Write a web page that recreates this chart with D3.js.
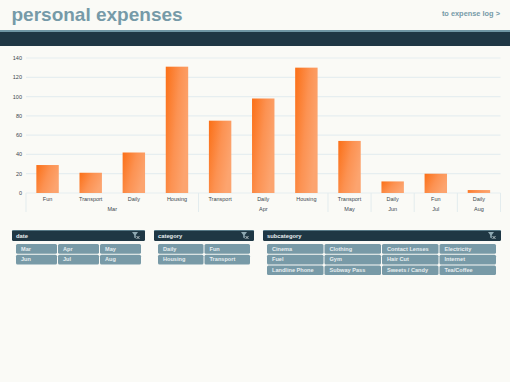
<!DOCTYPE html>
<html>

<head>
    <script src="https://d3js.org/d3.v7.min.js"></script>
    <style>
        body {
            margin: 0;
            background: #fafaf6;
            font-family: "Liberation Sans", Arial, sans-serif;
            overflow: hidden;
        }

        .grid line {
            stroke: #e6eef0;
            stroke-width: 1.2px;
        }

        .tick-label {
            font-size: 5.5px;
            fill: #3b474d;
        }

        .btn-label {
            font-size: 5.6px;
            font-weight: bold;
            fill: #e6edef;
        }

        .panel-title {
            font-size: 5.8px;
            font-weight: bold;
            fill: #e8eef0;
        }
    </style>
</head>

<body>
    <svg id="chart" width="510" height="382"></svg>
    <script>
        // chart data
        var months = ["Mar", "Mar", "Mar", "Mar", "Apr", "Apr", "Apr", "May", "Jun", "Jul", "Aug"];
        var categories = ["Fun", "Transport", "Daily", "Housing", "Transport", "Daily", "Housing", "Transport", "Daily", "Fun", "Daily"];
        var amounts = [29, 21, 42, 131, 75, 98, 130, 54, 12, 20, 3];
        var yTicks = [0, 20, 40, 60, 80, 100, 120, 140];

        var dateLabels = ["Mar", "Apr", "May", "Jun", "Jul", "Aug"];
        var categoryLabels = ["Daily", "Fun", "Housing", "Transport"];
        var subcategoryLabels = ["Cinema", "Clothing", "Contact Lenses", "Electricity", "Fuel", "Gym", "Hair Cut", "Internet", "Landline Phone", "Subway Pass", "Sweets / Candy", "Tea/Coffee"];

        var svg = d3.select("#chart");

        // gradient for the bars
        var grad = svg.append("defs").append("linearGradient")
            .attr("id", "barFill")
            .attr("x1", "0%").attr("y1", "0%")
            .attr("x2", "100%").attr("y2", "45%");
        grad.append("stop").attr("offset", "0%").attr("stop-color", "#fb6f16");
        grad.append("stop").attr("offset", "55%").attr("stop-color", "#fc9252");
        grad.append("stop").attr("offset", "100%").attr("stop-color", "#fca46f");

        // header
        svg.append("text")
            .attr("x", 11.5).attr("y", 20.5)
            .style("font-size", "19px")
            .style("font-weight", "bold")
            .style("fill", "#769aa8")
            .text("personal expenses");
        svg.append("text")
            .attr("x", 500).attr("y", 16)
            .attr("text-anchor", "end")
            .style("font-size", "7.4px")
            .style("font-weight", "bold")
            .style("fill", "#769aa8")
            .text("to expense log >");
        svg.append("rect").attr("x", 0).attr("y", 30).attr("width", 510).attr("height", 2).attr("fill", "#6f96a4");
        svg.append("rect").attr("x", 0).attr("y", 32).attr("width", 510).attr("height", 14).attr("fill", "#1f3744");

        // scales
        var x = d3.scaleBand()
            .domain(d3.range(amounts.length))
            .range([26, 500.5])
            .paddingInner(0.48)
            .paddingOuter(0.24);
        var y = d3.scaleLinear()
            .domain([0, 140])
            .range([193, 58]);

        // grid lines
        svg.append("g").attr("class", "grid")
            .selectAll("line")
            .data(yTicks)
            .enter().append("line")
            .attr("x1", 26).attr("x2", 500.5)
            .attr("y1", function(d) { return y(d); })
            .attr("y2", function(d) { return y(d); });

        // y labels
        svg.selectAll(".y-label")
            .data(yTicks)
            .enter().append("text")
            .attr("class", "tick-label")
            .attr("x", 22)
            .attr("y", function(d) { return y(d) + 2; })
            .attr("text-anchor", "end")
            .text(function(d) { return d; });

        // bars
        svg.selectAll(".bar")
            .data(amounts)
            .enter().append("rect")
            .attr("class", "bar")
            .attr("x", function(d, i) { return x(i); })
            .attr("width", x.bandwidth())
            .attr("y", function(d) { return y(d); })
            .attr("height", function(d) { return y(0) - y(d); })
            .attr("fill", "url(#barFill)");

        // category labels under bars
        svg.selectAll(".cat-label")
            .data(categories)
            .enter().append("text")
            .attr("class", "tick-label")
            .attr("x", function(d, i) { return x(i) + x.bandwidth() / 2; })
            .attr("y", 201.3)
            .attr("text-anchor", "middle")
            .text(function(d) { return d; });

        // month groups, with a divider on each side
        var step = x.step();
        var monthNames = Array.from(new Set(months));
        monthNames.forEach(function(m) {
            var first = months.indexOf(m);
            var last = months.lastIndexOf(m);
            var x0 = 26 + first * step;
            var x1 = 26 + (last + 1) * step;
            svg.append("text")
                .attr("class", "tick-label")
                .attr("x", (x0 + x1) / 2)
                .attr("y", 210.5)
                .attr("text-anchor", "middle")
                .text(m);
            svg.append("line")
                .attr("x1", x1).attr("x2", x1)
                .attr("y1", 193).attr("y2", 212)
                .attr("stroke", "#e3ecee");
        });
        svg.append("line")
            .attr("x1", 26).attr("x2", 26)
            .attr("y1", 193).attr("y2", 212)
            .attr("stroke", "#e3ecee");

        // filter panels
        function panel(title, labels, left, width, btnLeft, btnWidth, cols) {
            var g = svg.append("g");
            g.append("rect")
                .attr("x", left).attr("y", 230)
                .attr("width", width).attr("height", 11)
                .attr("rx", 1.5)
                .attr("fill", "#1f3744");
            g.append("rect")
                .attr("x", left).attr("y", 230)
                .attr("width", width).attr("height", 0.7)
                .attr("fill", "#6f96a4");
            g.append("text")
                .attr("class", "panel-title")
                .attr("x", left + 4).attr("y", 238)
                .text(title);

            // small clear-filter icon
            var ix = left + width - 13;
            g.append("path")
                .attr("d", "M" + ix + " 232 h6 l-2.2 3 v3.5 l-1.6 -1 v-2.5 Z")
                .attr("fill", "#8fa9b3");
            g.append("path")
                .attr("d", "M" + (ix + 4.5) + " 236 l3 3 M" + (ix + 7.5) + " 236 l-3 3")
                .attr("stroke", "#d5dfe2")
                .attr("stroke-width", 0.8);

            var btns = g.selectAll(".btn")
                .data(labels)
                .enter().append("g")
                .attr("transform", function(d, i) {
                    var bx = btnLeft + (i % cols) * (btnWidth + 1);
                    var by = 244 + Math.floor(i / cols) * 10.7;
                    return "translate(" + bx + "," + by + ")";
                });
            btns.append("rect")
                .attr("width", btnWidth).attr("height", 9.7)
                .attr("rx", 1.5)
                .attr("fill", "#789aa7");
            btns.append("text")
                .attr("class", "btn-label")
                .attr("x", 5).attr("y", 6.8)
                .text(function(d) { return d; });
        }

        panel("date", dateLabels, 12, 133, 16, 41, 3);
        panel("category", categoryLabels, 154, 100, 158, 45.5, 2);
        panel("subcategory", subcategoryLabels, 263, 238, 267, 56.5, 4);
    </script>
</body>

</html>
